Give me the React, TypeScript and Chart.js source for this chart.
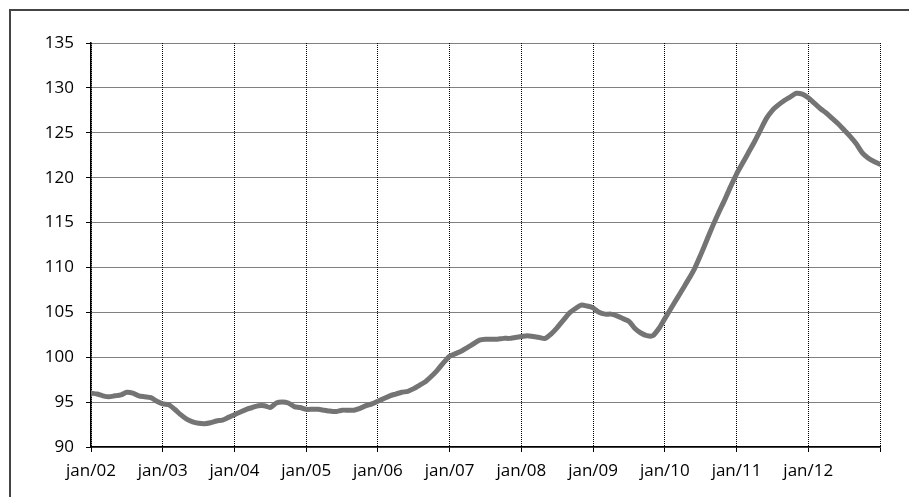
import React, { useEffect, useRef } from "react";
import { Chart, registerables } from "chart.js";

Chart.register(...registerables);

const tickLabels = ["jan/02", "jan/03", "jan/04", "jan/05", "jan/06", "jan/07", "jan/08", "jan/09", "jan/10", "jan/11", "jan/12"];

const y2002 = [96.0, 95.9, 95.7, 95.6, 95.7, 95.8, 96.1, 96.0, 95.7, 95.6, 95.5, 95.1];
const y2003 = [94.8, 94.7, 94.2, 93.6, 93.1, 92.8, 92.65, 92.6, 92.7, 92.9, 93.0, 93.3];
const y2004 = [93.6, 93.9, 94.2, 94.4, 94.6, 94.6, 94.4, 94.9, 95.0, 94.9, 94.5, 94.4];
const y2005 = [94.2, 94.2, 94.2, 94.1, 94.0, 93.95, 94.1, 94.1, 94.1, 94.3, 94.6, 94.8];
const y2006 = [95.1, 95.4, 95.7, 95.9, 96.1, 96.2, 96.5, 96.9, 97.3, 97.9, 98.6, 99.4];
const y2007 = [100.1, 100.4, 100.7, 101.1, 101.5, 101.9, 102.0, 102.0, 102.0, 102.1, 102.1, 102.2];
const y2008 = [102.3, 102.4, 102.3, 102.2, 102.1, 102.6, 103.3, 104.1, 104.9, 105.4, 105.8, 105.7];
const y2009 = [105.5, 105.0, 104.8, 104.8, 104.6, 104.3, 104.0, 103.2, 102.7, 102.4, 102.4, 103.2];
const y2010 = [104.3, 105.4, 106.5, 107.6, 108.7, 109.9, 111.4, 113.0, 114.6, 116.1, 117.5, 119.0];
const y2011 = [120.4, 121.6, 122.8, 124.0, 125.3, 126.6, 127.5, 128.1, 128.6, 129.0, 129.4, 129.3];
const y2012 = [128.9, 128.3, 127.7, 127.2, 126.6, 126.0, 125.3, 124.6, 123.8, 122.8, 122.2, 121.8];
const y2013 = [121.5];

const series = [...y2002, ...y2003, ...y2004, ...y2005, ...y2006, ...y2007, ...y2008, ...y2009, ...y2010, ...y2011, ...y2012, ...y2013];

const yMin = 90;
const yMax = 135;
const yStep = 5;

export default function App() {
  const ref = useRef<HTMLCanvasElement | null>(null);

  useEffect(() => {
    document.documentElement.style.overflow = "hidden";
    document.body.style.overflow = "hidden";
    const canvas = ref.current;
    if (!canvas) return;
    const font = { family: "'Open Sans'", size: 17 };
    const chart = new Chart(canvas, {
      type: "line",
      data: {
        datasets: [
          {
            data: series.map((v, i) => ({ x: i, y: v })),
            borderColor: "#747474",
            borderWidth: 5,
            pointRadius: 0,
            tension: 0.25,
            borderCapStyle: "round",
            borderJoinStyle: "round",
            fill: false,
          },
        ],
      },
      options: {
        animation: false,
        responsive: false,
        devicePixelRatio: 1,
        layout: { padding: { left: 0, top: 43, right: 29, bottom: 0 } },
        plugins: { legend: { display: false }, tooltip: { enabled: false } },
        scales: {
          x: {
            type: "linear",
            min: 0,
            max: 132,
            afterFit: (s: any) => {
              s.height = 50;
            },
            afterBuildTicks: (s: any) => {
              const t = [];
              for (let v = 0; v <= 132; v += 12) t.push({ value: v });
              s.ticks = t;
            },
            ticks: {
              color: "#000",
              font,
              padding: 9,
              maxRotation: 0,
              autoSkip: false,
              callback: (v: any) => {
                const i = Math.round(Number(v) / 12);
                return i < tickLabels.length ? tickLabels[i] : "";
              },
            },
            grid: {
              color: "#000",
              lineWidth: 1,
              tickLength: 5,
              tickColor: "#000",
              tickWidth: 1,
              tickBorderDash: [],
            },
            border: { display: true, color: "#000", width: 1.5, dash: [1, 1] },
          },
          y: {
            min: yMin,
            max: yMax,
            afterFit: (s: any) => {
              s.width = 91;
            },
            ticks: { stepSize: yStep, color: "#000", font, padding: 12 },
            grid: {
              color: "#000",
              lineWidth: 1,
              tickLength: 5,
              tickColor: "#000",
              tickWidth: 1,
              tickBorderDash: [],
            },
            border: { display: true, color: "#000", width: 1.5, dash: [1, 1] },
          },
        },
      },
    });
    return () => chart.destroy();
  }, []);

  return (
    <div>
      <canvas
        ref={ref}
        width={909}
        height={497}
        style={{ position: "fixed", left: 0, top: 0, width: 909, height: 497 }}
      />
      <div
        style={{
          position: "fixed",
          left: 9,
          top: 9,
          width: 1000,
          height: 1000,
          borderTop: "2px solid #444",
          borderLeft: "2px solid #444",
          pointerEvents: "none",
        }}
      />
    </div>
  );
}
